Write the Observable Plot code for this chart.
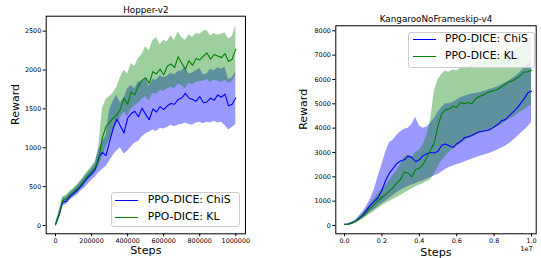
<!DOCTYPE html>
<html>
<head>
<meta charset="utf-8">
<script src="https://cdn.jsdelivr.net/npm/d3@7"></script>
<script src="https://cdn.jsdelivr.net/npm/@observablehq/plot@0.6"></script>
<style>
  html, body { margin: 0; padding: 0; background: #fff; }
  #wrap { position: relative; width: 541px; height: 258px; overflow: hidden; font-family: "DejaVu Sans", sans-serif; }
  .panel { position: absolute; top: 0; }
  .legend { position: absolute; background: rgba(255,255,255,0.8); border: 1px solid #cccccc; border-radius: 3px; box-sizing: border-box; }
  .item { position: absolute; font-size: 10.8px; line-height: 1; white-space: nowrap; color: #000; }
  .swatch { position: absolute; height: 0; border-top: 1.3px solid; }
</style>
</head>
<body>
<div id="wrap"></div>
<script>
// ---------------- Hopper-v2 ----------------
const hopperSteps = [0,20000,40000,60000,80000,100000,120000,140000,160000,180000,200000,220000,240000,260000,280000,300000,320000,340000,360000,380000,400000,420000,440000,460000,480000,500000,520000,540000,560000,580000,600000,620000,640000,660000,680000,700000,720000,740000,760000,780000,800000,820000,840000,860000,880000,900000,920000,940000,960000,980000,1000000];
const hopperChiS = [10,130,300,310,370,410,450,500,560,620,660,720,880,940,900,1080,1250,1370,1280,1190,1380,1440,1470,1400,1510,1430,1360,1500,1460,1530,1490,1540,1570,1560,1620,1640,1700,1640,1620,1600,1660,1580,1590,1640,1610,1680,1650,1690,1540,1560,1640];
const hopperChiSLo = [0,100,250,270,320,360,390,440,480,530,580,620,680,720,760,830,900,960,1000,920,960,1010,1060,1080,1140,1180,1200,1230,1210,1250,1240,1260,1290,1270,1290,1300,1320,1300,1290,1320,1330,1310,1330,1320,1340,1320,1330,1290,1230,1260,1300];
const hopperChiSHi = [20,160,350,370,420,460,510,560,620,680,730,800,980,1080,1150,1480,1600,1680,1580,1640,1760,1800,1760,1850,1840,1900,1790,1880,1870,1930,1900,1920,1960,1940,1980,1990,2040,1950,1960,1990,2020,1940,1950,2010,1990,2030,2010,2040,1880,1900,1980];
const hopperKL = [10,150,320,340,390,430,470,520,580,640,690,740,850,1130,1270,1330,1380,1420,1500,1640,1560,1720,1680,1800,1870,1900,1830,1980,1950,2010,1940,2050,2080,2030,2170,2090,2010,2120,2060,2150,2130,2180,2220,2140,2200,2180,2160,2210,2110,2140,2270];
const hopperKLLo = [0,110,270,300,340,380,420,470,520,580,630,680,760,880,1000,1100,1200,1300,1380,1460,1400,1500,1540,1580,1620,1660,1600,1700,1690,1740,1720,1760,1780,1760,1820,1800,1760,1830,1810,1840,1850,1860,1880,1840,1870,1860,1840,1870,1830,1850,1930];
const hopperKLHi = [20,190,370,390,440,480,520,580,640,700,760,820,1000,1500,1620,1660,1700,1780,1900,2000,1950,2080,2050,2150,2200,2300,2250,2380,2420,2330,2380,2360,2440,2380,2490,2420,2380,2450,2420,2470,2460,2500,2510,2440,2470,2450,2460,2480,2400,2430,2570];
const hopperYTicks = [0,500,1000,1500,2000,2500];
const hopperXTicks = [0,200000,400000,600000,800000,1000000];

// ---------------- KangarooNoFrameskip-v4 (steps in units of 1e7) ----------------
const kangSteps = [0,0.02,0.04,0.06,0.08,0.10,0.12,0.14,0.16,0.18,0.20,0.22,0.24,0.26,0.28,0.30,0.32,0.34,0.36,0.38,0.40,0.42,0.44,0.46,0.48,0.50,0.52,0.54,0.56,0.58,0.60,0.62,0.64,0.66,0.68,0.70,0.72,0.74,0.76,0.78,0.80,0.82,0.84,0.86,0.88,0.90,0.92,0.94,0.96,0.98,1.00];
const kangChiS = [40,50,100,180,300,450,650,850,1000,1150,1450,1850,2150,2350,2550,2650,2700,2850,2800,2620,2700,2870,2950,3000,2980,3050,3300,3350,3280,3200,3350,3450,3600,3650,3700,3780,3850,3870,3900,3950,4050,4150,4300,4350,4500,4650,4800,5000,5200,5450,5520];
const kangChiSLo = [20,30,70,130,220,300,420,540,660,780,900,1000,1120,1230,1350,1450,1530,1600,1660,1720,1780,1840,1900,1960,2030,2100,2200,2300,2380,2440,2500,2550,2600,2660,2720,2770,2830,2880,2930,2980,3040,3100,3180,3260,3360,3480,3620,3760,3900,4050,4220];
const kangChiSHi = [60,80,140,240,400,580,820,1100,1500,2000,2500,3000,3400,3500,3700,3850,3950,4000,4150,4450,4100,4000,4050,4200,4400,4650,4850,5000,5000,5050,5150,5250,5300,5350,5400,5420,5450,5500,5550,5600,5650,5700,5780,5850,5950,6050,6150,6300,6450,6600,6700];
const kangKL = [40,50,90,160,270,400,560,720,880,1020,1150,1280,1420,1560,1750,1900,2200,2150,2000,2300,2350,2500,2800,3100,3400,4100,4600,4750,4800,4900,4850,5050,5000,5050,5000,5200,5300,5350,5450,5500,5550,5600,5700,5800,5900,5950,6050,6150,6300,6320,6380];
const kangKLLo = [20,30,60,110,190,280,380,480,590,700,800,900,990,1070,1150,1230,1320,1410,1500,1580,1650,1720,1800,1880,2100,2400,2650,2850,3000,3150,3250,3350,3450,3550,3620,3700,3760,3820,3880,3940,4000,4080,4150,4250,4350,4450,4550,4650,4750,4850,4950];
const kangKLHi = [60,70,120,210,350,510,700,900,1100,1300,1480,1650,1850,2050,2250,2500,2800,2900,2750,3000,3100,3300,3700,4300,5500,6000,6200,6350,6300,6400,6350,6450,6550,6500,6600,6650,6700,6750,6800,6850,6900,6950,7000,7050,7100,7200,7300,7350,7450,7600,7750];
const kangYTicks = [0,1000,2000,3000,4000,5000,6000,7000,8000];
const kangXTicks = [0,0.2,0.4,0.6,0.8,1.0];

const seriesNames = ["PPO-DICE: ChiS", "PPO-DICE: KL"];
const lineColors = ["#0000ff", "#008000"];
const bandColors = ["#0000ff", "#008000"];

function rows(xs, mean, lo, hi) {
  return xs.map((x, i) => ({x, mean: mean[i], lo: lo[i], hi: hi[i]}));
}

function panel(cfg) {
  const a = rows(cfg.xs, cfg.chi, cfg.chiLo, cfg.chiHi);
  const b = rows(cfg.xs, cfg.kl, cfg.klLo, cfg.klHi);
  const axisFont = 6.4;
  return Plot.plot({
    width: cfg.width,
    height: 258,
    marginLeft: cfg.ml, marginRight: cfg.mr, marginTop: cfg.mt, marginBottom: cfg.mb,
    style: {fontFamily: "DejaVu Sans, sans-serif", background: "transparent", color: "#000"},
    x: {domain: cfg.xDomain},
    y: {domain: cfg.yDomain},
    marks: [
      Plot.areaY(a, {x: "x", y1: "lo", y2: "hi", fill: bandColors[0], fillOpacity: 0.4}),
      Plot.areaY(b, {x: "x", y1: "lo", y2: "hi", fill: bandColors[1], fillOpacity: 0.38}),
      Plot.lineY(a, {x: "x", y: "mean", stroke: lineColors[0], strokeWidth: 1.1}),
      Plot.lineY(b, {x: "x", y: "mean", stroke: lineColors[1], strokeWidth: 1.1}),
      Plot.frame({stroke: "#000", strokeWidth: 1}),
      Plot.axisX({ticks: cfg.xTicks, tickFormat: cfg.xFormat, tickSize: 3, tickPadding: 2, fontSize: axisFont, label: null, stroke: "#000"}),
      Plot.axisY({ticks: cfg.yTicks, tickFormat: d3.format("d"), tickSize: 3, tickPadding: 2, fontSize: axisFont, label: null, stroke: "#000"}),
      Plot.text([cfg.title], {text: d => d, frameAnchor: "top", lineAnchor: "middle", dy: cfg.titleDy, fontSize: 8.8, fill: "#000"}),
      Plot.text(["Reward"], {text: d => d, frameAnchor: "left", lineAnchor: "middle", dx: cfg.ylabDx, rotate: -90, fontSize: 11, fill: "#000"}),
      Plot.text(["Steps"], {text: d => d, frameAnchor: "bottom", lineAnchor: "middle", dy: cfg.xlabDy, fontSize: 11.2, fill: "#000"}),
      ...(cfg.offset ? [Plot.text([cfg.offset], {text: d => d, frameAnchor: "bottom-right", textAnchor: "middle", lineAnchor: "middle", dx: -9.7, dy: 15, fontSize: axisFont, fill: "#000"})] : [])
    ]
  });
}

const wrap = document.getElementById("wrap");

const left = panel({
  width: 270, ml: 45.7, mr: 25, mt: 15.7, mb: 24.7,
  xs: hopperSteps, chi: hopperChiS, chiLo: hopperChiSLo, chiHi: hopperChiSHi,
  kl: hopperKL, klLo: hopperKLLo, klHi: hopperKLHi,
  xDomain: [-51600, 1053800], yDomain: [-107, 2693],
  xTicks: hopperXTicks, yTicks: hopperYTicks, xFormat: d3.format("d"),
  title: "Hopper-v2", titleDy: -6.2, ylabDx: -30.7, xlabDy: 16.7
});
left.classList.add("panel");
left.style.left = "0px";
wrap.appendChild(left);

const right = panel({
  width: 271, ml: 65.3, mr: 5.3, mt: 25.3, mb: 24.7,
  xs: kangSteps, chi: kangChiS, chiLo: kangChiSLo, chiHi: kangChiSHi,
  kl: kangKL, klLo: kangKLLo, klHi: kangKLHi,
  xDomain: [-0.0465, 1.025], yDomain: [-341, 8205],
  xTicks: kangXTicks, yTicks: kangYTicks, xFormat: d3.format(".1f"),
  title: "KangarooNoFrameskip-v4", titleDy: -7, ylabDx: -32, xlabDy: 18.4,
  offset: "1e7"
});
right.classList.add("panel");
right.style.left = "270px";
wrap.appendChild(right);

function legend(box, lineX0, lineX1, textX, ys) {
  const lg = document.createElement("div");
  lg.className = "legend";
  Object.assign(lg.style, {left: box[0] + "px", top: box[1] + "px", width: (box[2] - box[0]) + "px", height: (box[3] - box[1]) + "px"});
  wrap.appendChild(lg);
  seriesNames.forEach((name, i) => {
    const sw = document.createElement("div");
    sw.className = "swatch";
    Object.assign(sw.style, {left: lineX0 + "px", width: (lineX1 - lineX0) + "px", top: (ys[i] - 0.6) + "px", borderColor: lineColors[i]});
    wrap.appendChild(sw);
    const t = document.createElement("div");
    t.className = "item";
    t.textContent = name;
    Object.assign(t.style, {left: textX + "px", top: (ys[i] - 5.6) + "px"});
    wrap.appendChild(t);
  });
}
legend([111, 191.7, 240, 226.7], 115, 138.3, 147.7, [200.3, 217.3]);
legend([408.3, 31.7, 535, 67.7], 412.7, 435.7, 445, [40, 56.7]);
</script>
</body>
</html>
